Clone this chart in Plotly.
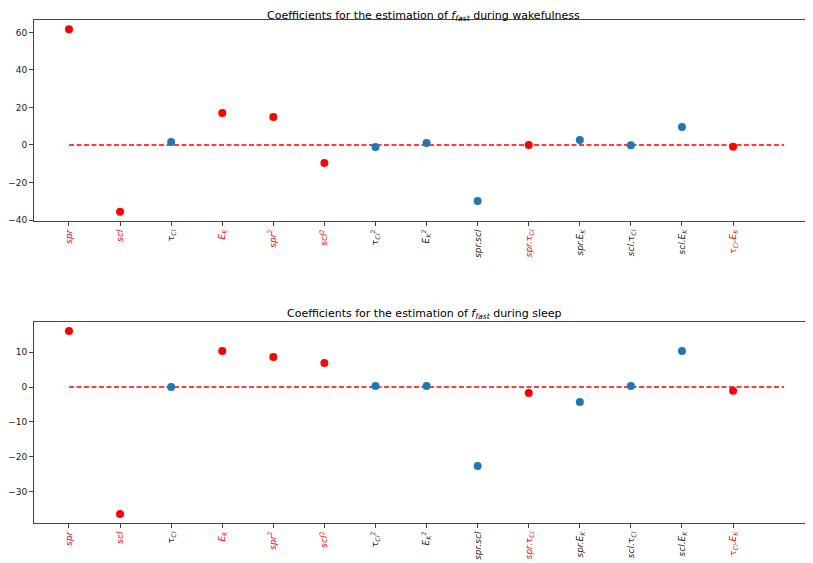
import plotly.graph_objects as go
from plotly.subplots import make_subplots

# Regression terms (x axis) and whether each is significant (red)
labels = [
    "<i>spr</i>",
    "<i>scl</i>",
    "τ<sub><i>Cl</i></sub>",
    "<i>E<sub>K</sub></i>",
    "<i>spr</i><sup>2</sup>",
    "<i>scl</i><sup>2</sup>",
    "τ<sub><i>Cl</i></sub><sup>2</sup>",
    "<i>E<sub>K</sub></i><sup>2</sup>",
    "<i>spr.scl</i>",
    "<i>spr.</i>τ<sub><i>Cl</i></sub>",
    "<i>spr.E<sub>K</sub></i>",
    "<i>scl.</i>τ<sub><i>Cl</i></sub>",
    "<i>scl.E<sub>K</sub></i>",
    "τ<sub><i>Cl</i></sub><i>.E<sub>K</sub></i>",
]
significant_wake = [True, True, False, True, True, True, False, False,
                    False, True, False, False, False, True]
significant_sleep = significant_wake

wake_coef = [61.7, -35.6, 1.6, 17.0, 14.9, -9.6, -1.1, 1.1,
             -29.8, 0.0, 2.7, -0.2, 9.6, -1.0]
sleep_coef = [16.0, -36.3, 0.0, 10.3, 8.6, 6.9, 0.3, 0.3,
              -22.6, -1.7, -4.3, 0.3, 10.3, -1.1]

titles = [
    "Coefficients for the estimation of <i>f<sub>fast</sub></i> during wakefulness",
    "Coefficients for the estimation of <i>f<sub>fast</sub></i> during sleep",
]

RED = "#ff0000"
BLUE = "#1f77b4"
AXIS = "#444444"
FONT = "DejaVu Sans"

fig = make_subplots(rows=2, cols=1, vertical_spacing=0.2)

for row, (coef, sig) in enumerate(
    [(wake_coef, significant_wake), (sleep_coef, significant_sleep)], start=1
):
    idx = list(range(len(labels)))
    fig.add_trace(
        go.Scatter(
            x=[0, len(labels)],
            y=[0, 0],
            mode="lines",
            line=dict(color=RED, width=1.5, dash="5px,2.5px"),
            showlegend=False,
            hoverinfo="skip",
        ),
        row=row, col=1,
    )
    fig.add_trace(
        go.Scatter(
            x=idx,
            y=coef,
            mode="markers",
            marker=dict(size=8, color=[RED if s else BLUE for s in sig]),
            showlegend=False,
        ),
        row=row, col=1,
    )
    ticktext = [
        f'<span style="color:{RED}">{lab}</span>' if s else lab
        for lab, s in zip(labels, sig)
    ]
    fig.update_xaxes(
        tickmode="array",
        tickvals=idx,
        ticktext=ticktext,
        tickangle=-90,
        range=[-0.685, 14.565],
        row=row, col=1,
    )

axis_style = dict(
    showline=True,
    linecolor=AXIS,
    linewidth=1,
    showgrid=False,
    zeroline=False,
    automargin=False,
    ticks="outside",
    ticklen=4,
    tickcolor=AXIS,
    tickfont=dict(family=FONT, size=9, color="#222222"),
)
fig.update_xaxes(mirror=True, **axis_style)
fig.update_yaxes(mirror=False, **axis_style)

title_style = dict(
    x=0.5, xref="paper", yref="paper", xanchor="center", yanchor="top",
    borderpad=0, showarrow=False,
    font=dict(family=FONT, size=11, color="black"),
)

# the page puts the figure 8 px in from the top-left corner
fig.update_layout(
    width=813,
    height=563,
    margin=dict(l=26, r=8, t=12, b=48, autoexpand=False),
    plot_bgcolor="white",
    paper_bgcolor="white",
    xaxis=dict(domain=[0, 1]),
    yaxis=dict(domain=[0.6004, 1], range=[-40.5, 66.6],
               tickvals=[-40, -20, 0, 20, 40, 60],
               ticktext=["−40", "−20", "0", "20", "40", "60"]),
    xaxis2=dict(domain=[0, 1]),
    yaxis2=dict(domain=[0, 0.3996], range=[-38.9, 18.6],
                tickvals=[-30, -20, -10, 0, 10],
                ticktext=["−30", "−20", "−10", "0", "10"]),
    annotations=[
        # top title sits a little lower so it is not cut at the page edge
        dict(text=titles[0], y=1, yshift=12, **title_style),
        dict(text=titles[1], y=0.3996, yshift=16, **title_style),
    ],
)

fig.write_html("out.html")
